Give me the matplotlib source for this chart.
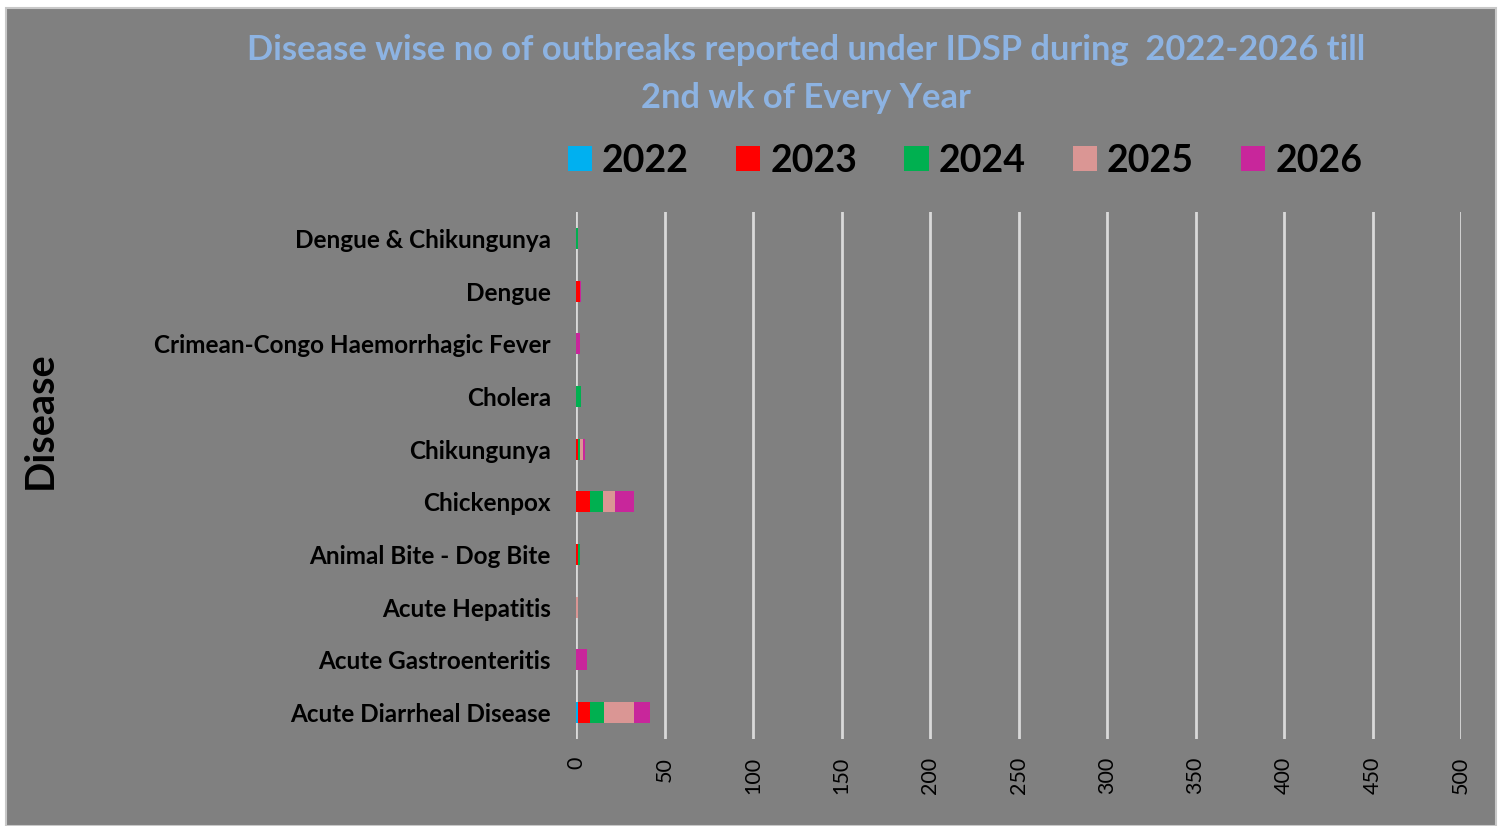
import matplotlib.pyplot as plt
import numpy as np
from matplotlib.patches import Patch, Rectangle

plt.rcParams['font.family'] = ['Lato', 'DejaVu Sans']

diseases = ['Acute Diarrheal Disease', 'Acute Gastroenteritis', 'Acute Hepatitis',
            'Animal Bite - Dog Bite', 'Chickenpox', 'Chikungunya', 'Cholera',
            'Crimean-Congo Haemorrhagic Fever', 'Dengue', 'Dengue & Chikungunya']
years = ['2022', '2023', '2024', '2025', '2026']
y2022 = [1, 0, 0, 0, 0, 0, 0, 0, 0, 0]
y2023 = [7, 0, 0, 1, 8, 1, 0, 0, 2, 0]
y2024 = [8, 0, 0, 1, 7, 1, 3, 0, 0, 1]
y2025 = [17, 0, 1, 0, 7, 2, 0, 0, 0, 0]
y2026 = [9, 6, 0, 0, 11, 1, 0, 2, 1, 0]
colors = ['#00b0f0', '#ff0000', '#00b050', '#da9694', '#c8269b']

fig = plt.figure(figsize=(14.98, 8.26), dpi=100)
fig.patch.set_facecolor('white')
# grey chart area with a thin border
fig.patches.append(Rectangle((6 / 1498, 0), 1490 / 1498, 818 / 826, transform=fig.transFigure,
                             facecolor='#808080', edgecolor='#c8c8c8', linewidth=1.5, zorder=-1))

ax = fig.add_axes([576 / 1498, 1 - 739 / 826, (1461 - 576) / 1498, (739 - 212) / 826])
ax.set_facecolor('none')

pos = np.arange(len(diseases))
left = np.zeros(len(diseases))
for year, vals, c in zip(years, [y2022, y2023, y2024, y2025, y2026], colors):
    ax.barh(pos, vals, left=left, height=0.4, color=c, label=year, zorder=3)
    left += np.array(vals)

ax.set_xlim(0, 500)
ax.set_ylim(-0.5, len(diseases) - 0.5)
ax.set_xticks(np.arange(0, 501, 50))
ax.set_yticks(pos)
ax.set_yticklabels(diseases, fontsize=17.5, fontweight='bold')
ax.tick_params(axis='x', labelrotation=90, labelsize=15.5, length=0, pad=13)
ax.tick_params(axis='y', length=0, pad=18)
ax.grid(axis='x', color='#d9d9d9', linewidth=2, zorder=0)
for s in ax.spines.values():
    s.set_visible(False)

fig.text(40 / 1498, 1 - 420 / 826, 'Disease', rotation=90, fontsize=28.5, fontweight='bold',
         ha='center', va='center')

fig.text(806 / 1498, 1 - 74 / 826,
         'Disease wise no of outbreaks reported under IDSP during  2022-2026 till\n2nd wk of Every Year',
         fontsize=24.8, fontweight='bold', color='#8db3e2', ha='center', va='center', linespacing=1.6)

handles = [Patch(facecolor=c, label=y) for y, c in zip(years, colors)]
fig.legend(handles=handles, loc='center', bbox_to_anchor=(965 / 1498, 1 - 161 / 826), ncol=5,
           frameon=False, handlelength=0.65, handleheight=0.65, handletextpad=0.27,
           columnspacing=1.25, prop={'size': 27, 'weight': 'bold'})

plt.savefig('out.png', dpi=100, facecolor=fig.get_facecolor())
plt.close()
